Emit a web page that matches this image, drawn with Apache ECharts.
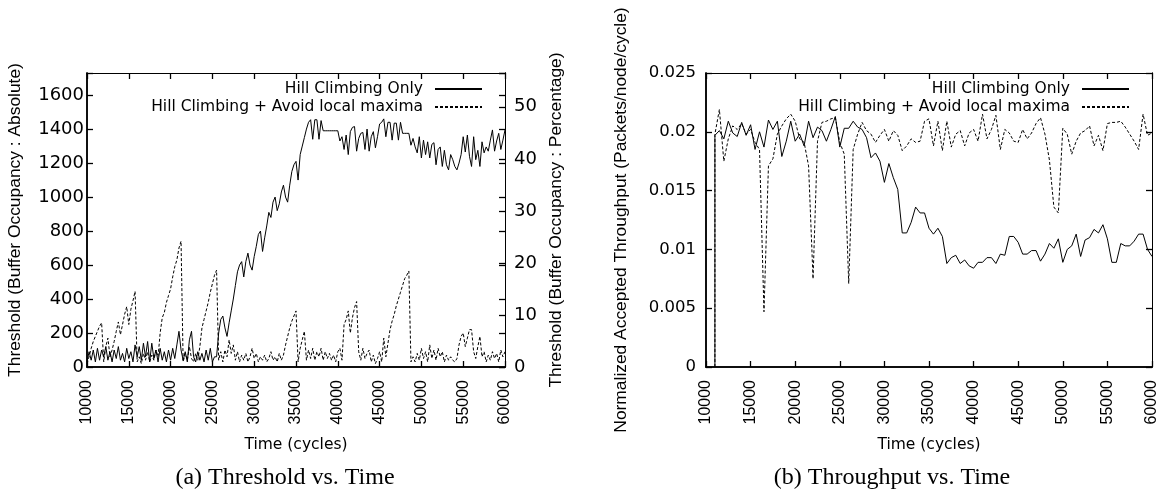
<!DOCTYPE html>
<html>
<head>
<meta charset="utf-8">
<script src="https://cdn.jsdelivr.net/npm/echarts@6/dist/echarts.min.js"></script>
<style>
  html, body { margin: 0; padding: 0; background: #fff; }
  #wrap { position: relative; width: 1162px; height: 498px; }
  #chart, #frame { position: absolute; left: 0; top: 0; width: 1162px; height: 498px; }
  #frame { pointer-events: none; }
</style>
</head>
<body>
<div id="wrap">
  <div id="chart"></div>
  <div id="frame"></div>
</div>
<script>
// Panel (a): threshold, sampled every 250 cycles from 10000 to 60000
const thrTimes = [];
for (let t = 10000; t <= 60000; t += 250) thrTimes.push(t);

const thrHillOnly = [
  30, 90, 40, 100, 30, 110, 40, 100, 60, 120, 40, 90, 30, 100, 50, 120, 40, 80, 30, 110,
  50, 90, 30, 130, 60, 120, 40, 140, 60, 150, 30, 140, 50, 100, 30, 110, 40, 90, 30, 100,
  40, 110, 50, 130, 210, 100, 40, 90, 30, 160, 210, 60, 30, 90, 40, 80, 30, 100, 40, 110,
  30, 60, 60, 200, 280, 300, 230, 180, 260, 330, 400, 480, 560, 600, 620, 530, 620, 670, 600, 570,
  650, 710, 780, 800, 680, 760, 830, 910, 880, 970, 1000, 920, 960, 1030, 1070, 1000, 970, 1070, 1150, 1190,
  1210, 1100, 1250, 1300, 1350, 1400, 1440, 1455, 1340, 1455, 1455, 1340, 1450, 1390, 1390, 1390, 1390, 1390, 1390, 1390,
  1390, 1330, 1355, 1280, 1365, 1250, 1385, 1410, 1415, 1270, 1345, 1375, 1380, 1280, 1400, 1270, 1355, 1385, 1290, 1355,
  1430, 1440, 1460, 1355, 1440, 1440, 1335, 1435, 1435, 1335, 1440, 1375, 1375, 1375, 1375, 1305, 1345, 1295, 1260, 1355,
  1230, 1335, 1250, 1325, 1230, 1310, 1320, 1190, 1280, 1295, 1180, 1275, 1190, 1160, 1250, 1220, 1180, 1160, 1200, 1250,
  1355, 1265, 1365, 1240, 1180, 1355, 1220, 1275, 1180, 1325, 1260, 1295, 1270, 1335, 1395, 1270, 1330, 1375, 1280, 1335,
  1395
];

const thrAvoid = [
  20, 60, 110, 150, 180, 210, 240, 260, 30, 120, 170, 60, 100, 150, 210, 265, 190, 250, 310, 355,
  250, 340, 390, 445, 30, 60, 20, 80, 40, 90, 30, 70, 40, 100, 60, 200, 290, 320, 380, 420,
  460, 530, 590, 630, 700, 740, 30, 80, 40, 120, 50, 30, 80, 40, 120, 230, 280, 330, 380, 440,
  490, 540, 570, 40, 90, 30, 100, 60, 160, 80, 130, 40, 90, 30, 70, 40, 80, 30, 60, 110,
  50, 80, 30, 60, 40, 70, 30, 50, 90, 40, 60, 30, 80, 40, 70, 130, 180, 230, 270, 300,
  330, 30, 110, 160, 210, 40, 100, 50, 110, 40, 90, 60, 110, 40, 90, 50, 80, 40, 70, 30,
  90, 110, 40, 250, 280, 330, 200, 290, 350, 385, 90, 40, 110, 50, 80, 100, 30, 70, 20, 50,
  90, 30, 170, 60, 140, 220, 270, 310, 360, 400, 440, 480, 520, 540, 565, 30, 60, 30, 80, 40,
  110, 50, 90, 30, 130, 50, 100, 40, 110, 60, 90, 30, 70, 40, 60, 40, 30, 50, 130, 180,
  200, 120, 170, 220, 220, 90, 50, 120, 180, 60, 90, 30, 70, 40, 90, 50, 80, 30, 100, 60,
  90
];

// Panel (b): throughput, first sample at 11000 starts from 0, then every 500 cycles
const tpTimes = [11000];
for (let t = 11000; t <= 60000; t += 500) tpTimes.push(t);

const tpHillOnly = [
  0,
  0.0197, 0.0201, 0.0194, 0.0209, 0.0199, 0.0196, 0.0208, 0.0197, 0.0206, 0.0185,
  0.0200, 0.0187, 0.0210, 0.0202, 0.0209, 0.0179, 0.0192, 0.0209, 0.0192, 0.0198,
  0.0188, 0.0209, 0.0195, 0.0204, 0.0201, 0.0192, 0.0202, 0.0213, 0.0187, 0.0203,
  0.0203, 0.0209, 0.0204, 0.0202, 0.0195, 0.0178, 0.0182, 0.0175, 0.0157, 0.0173,
  0.0161, 0.0151, 0.0114, 0.0114, 0.0123, 0.0136, 0.0131, 0.0131, 0.0118,
  0.0113, 0.0118, 0.0111, 0.0088, 0.0093, 0.0095, 0.0088, 0.0091, 0.0086, 0.0084,
  0.0089, 0.0089, 0.0093, 0.0093, 0.0088, 0.0096, 0.0095, 0.0111, 0.0111, 0.0106,
  0.0096, 0.0096, 0.0099, 0.0099, 0.0090, 0.0096, 0.0105, 0.0101, 0.0109, 0.0089,
  0.0100, 0.0103, 0.0113, 0.0094, 0.0108, 0.0110, 0.0117, 0.0114, 0.0121, 0.0109,
  0.0089, 0.0089, 0.0105, 0.0103, 0.0103, 0.0107, 0.0113, 0.0113, 0.0100, 0.0094
];

const tpAvoid = [
  0,
  0.0198, 0.0219, 0.0175, 0.0194, 0.0205, 0.0202, 0.0207, 0.0198, 0.0202, 0.0191,
  0.0185, 0.0047, 0.0171, 0.0177, 0.0198, 0.0205, 0.0211, 0.0215, 0.0209, 0.0194,
  0.0191, 0.0171, 0.0075, 0.0192, 0.0208, 0.0209, 0.0211, 0.0212, 0.0191, 0.0181,
  0.0071, 0.0185, 0.0198, 0.0208, 0.0201, 0.0198, 0.0191, 0.0197, 0.0202, 0.0192,
  0.0201, 0.0197, 0.0184, 0.0188, 0.0194, 0.0191, 0.0192, 0.0209, 0.0211,
  0.0188, 0.0209, 0.0184, 0.0209, 0.0187, 0.0198, 0.0201, 0.0188, 0.0199, 0.0202,
  0.0192, 0.0215, 0.0194, 0.0202, 0.0214, 0.0185, 0.0202, 0.0199, 0.0192, 0.0191,
  0.0202, 0.0194, 0.0199, 0.0207, 0.0212, 0.0198, 0.0176, 0.0136, 0.0131, 0.0203,
  0.0198, 0.0181, 0.0192, 0.0199, 0.0201, 0.0205, 0.0188, 0.0197, 0.0184, 0.0207,
  0.0208, 0.0208, 0.0209, 0.0204, 0.0198, 0.0192, 0.0185, 0.0215, 0.0197, 0.0199
];

const NAME_HC = 'Hill Climbing Only';
const NAME_AV = 'Hill Climbing + Avoid local maxima';

const pairs = (xs, ys) => ys.map((v, i) => [xs[i], v]);
const plain = v => String(v);

const wide = 'DejaVu Sans';
const narrow = 'Liberation Sans';

const grids = [
  {left: 87, top: 73, width: 418, height: 294},
  {left: 706, top: 73, width: 446, height: 294}
];

function xAxisFor(grid, bottom) {
  return {
    gridIndex: grid,
    type: 'value',
    position: bottom ? 'bottom' : 'top',
    min: 10000, max: 60000, interval: 5000,
    name: bottom ? 'Time (cycles)' : '',
    nameLocation: 'middle',
    nameGap: 70,
    nameTextStyle: {fontFamily: wide, fontSize: 15.5, color: '#000'},
    axisLine: {show: true, onZero: false, lineStyle: {color: '#000', width: bottom ? 1.5 : 1}},
    axisTick: {show: false},
    axisLabel: {
      show: bottom, rotate: 90, margin: 13, formatter: plain,
      fontFamily: narrow, fontSize: 16, color: '#000'
    },
    splitLine: {show: false}
  };
}

function yAxisFor(grid, opts) {
  return Object.assign({
    gridIndex: grid,
    type: 'value',
    min: 0,
    nameLocation: 'middle',
    nameRotate: 90,
    nameTextStyle: {fontFamily: narrow, fontSize: 17.4, color: '#000'},
    axisLine: {show: true, onZero: false, lineStyle: {color: '#000', width: opts.position === 'left' ? 1.5 : 1}},
    axisTick: {show: false},
    splitLine: {show: false}
  }, opts);
}

function yLabels(size, margin, showMax) {
  return {
    show: true, margin: margin, showMaxLabel: showMax, formatter: plain,
    fontFamily: wide, fontSize: size, color: '#000'
  };
}

function legendFor(name, right, top) {
  return {
    data: [name],
    right: right, top: top,
    align: 'right',
    orient: 'vertical',
    itemWidth: 47, itemHeight: 10,
    selectedMode: false,
    itemStyle: {opacity: 0},
    textStyle: {fontFamily: wide, fontSize: 15.5, color: '#000', padding: [0, 7, 0, 0]}
  };
}

const chart = echarts.init(document.getElementById('chart'));

chart.setOption({
  animation: false,
  backgroundColor: '#fff',
  grid: grids,
  xAxis: [
    xAxisFor(0, true), xAxisFor(0, false),
    xAxisFor(1, true), xAxisFor(1, false)
  ],
  yAxis: [
    yAxisFor(0, {position: 'left', max: 1730, interval: 200,
      axisLabel: yLabels(18, 3, false),
      name: 'Threshold (Buffer Occupancy : Absolute)', nameGap: 63}),
    yAxisFor(0, {position: 'right', max: 56.5, interval: 10,
      axisLabel: yLabels(18, 9, false),
      name: 'Threshold (Buffer Occupancy : Percentage)', nameGap: 43}),
    yAxisFor(1, {position: 'left', max: 0.025, interval: 0.005,
      axisLabel: yLabels(16.5, 10, true),
      name: 'Normalized Accepted Throughput (Packets/node/cycle)', nameGap: 76}),
    yAxisFor(1, {position: 'right', max: 0.025, interval: 0.005,
      axisLabel: {show: false}})
  ],
  legend: [
    legendFor(NAME_HC, 674, 76),
    legendFor(NAME_AV, 674, 94),
    legendFor(NAME_HC, 27, 76),
    legendFor(NAME_AV, 27, 94)
  ],
  series: [
    {
      name: NAME_HC, type: 'line', xAxisIndex: 0, yAxisIndex: 0,
      symbol: 'none', data: pairs(thrTimes, thrHillOnly),
      lineStyle: {color: '#000', width: 1}, itemStyle: {color: '#000'}
    },
    {
      name: NAME_AV, type: 'line', xAxisIndex: 0, yAxisIndex: 0,
      symbol: 'none', data: pairs(thrTimes, thrAvoid),
      lineStyle: {color: '#000', width: 1, type: [3, 2]}, itemStyle: {color: '#000'}
    },
    {
      name: NAME_HC, type: 'line', xAxisIndex: 2, yAxisIndex: 2,
      symbol: 'none', data: pairs(tpTimes, tpHillOnly),
      lineStyle: {color: '#000', width: 1}, itemStyle: {color: '#000'}
    },
    {
      name: NAME_AV, type: 'line', xAxisIndex: 2, yAxisIndex: 2,
      symbol: 'none', data: pairs(tpTimes, tpAvoid),
      lineStyle: {color: '#000', width: 1, type: [3, 2]}, itemStyle: {color: '#000'}
    }
  ],
  graphic: [
    {type: 'text', x: 285, y: 478, style: {text: '(a) Threshold vs. Time',
      font: '24px "Liberation Serif"', fill: '#000', textAlign: 'center', textVerticalAlign: 'middle'}},
    {type: 'text', x: 892, y: 478, style: {text: '(b) Throughput vs. Time',
      font: '24px "Liberation Serif"', fill: '#000', textAlign: 'center', textVerticalAlign: 'middle'}}
  ]
});

// Plot frame with inward ticks on all four sides (gnuplot "mirror" ticks),
// drawn by a plain overlay chart sharing the same grids and scales.
const frameTick = {show: true, inside: true, length: 6, lineStyle: {color: '#000', width: 1.3}};

function frameAxis(grid, position, min, max, interval, width) {
  return {
    gridIndex: grid, type: 'value', position: position,
    min: min, max: max, interval: interval,
    axisLine: {show: true, onZero: false, lineStyle: {color: '#000', width: width}},
    axisTick: frameTick,
    axisLabel: {show: false},
    splitLine: {show: false}
  };
}

const frame = echarts.init(document.getElementById('frame'));
frame.setOption({
  animation: false,
  backgroundColor: 'transparent',
  grid: grids,
  xAxis: [
    frameAxis(0, 'bottom', 10000, 60000, 5000, 1.5),
    frameAxis(0, 'top', 10000, 60000, 5000, 1),
    frameAxis(1, 'bottom', 10000, 60000, 5000, 1.5),
    frameAxis(1, 'top', 10000, 60000, 5000, 1)
  ],
  yAxis: [
    frameAxis(0, 'left', 0, 1730, 200, 1.5),
    frameAxis(0, 'right', 0, 1730, 200, 1),
    frameAxis(0, 'right', 0, 56.5, 10, 1),
    frameAxis(1, 'left', 0, 0.025, 0.005, 1.5),
    frameAxis(1, 'right', 0, 0.025, 0.005, 1)
  ]
});
</script>
</body>
</html>
